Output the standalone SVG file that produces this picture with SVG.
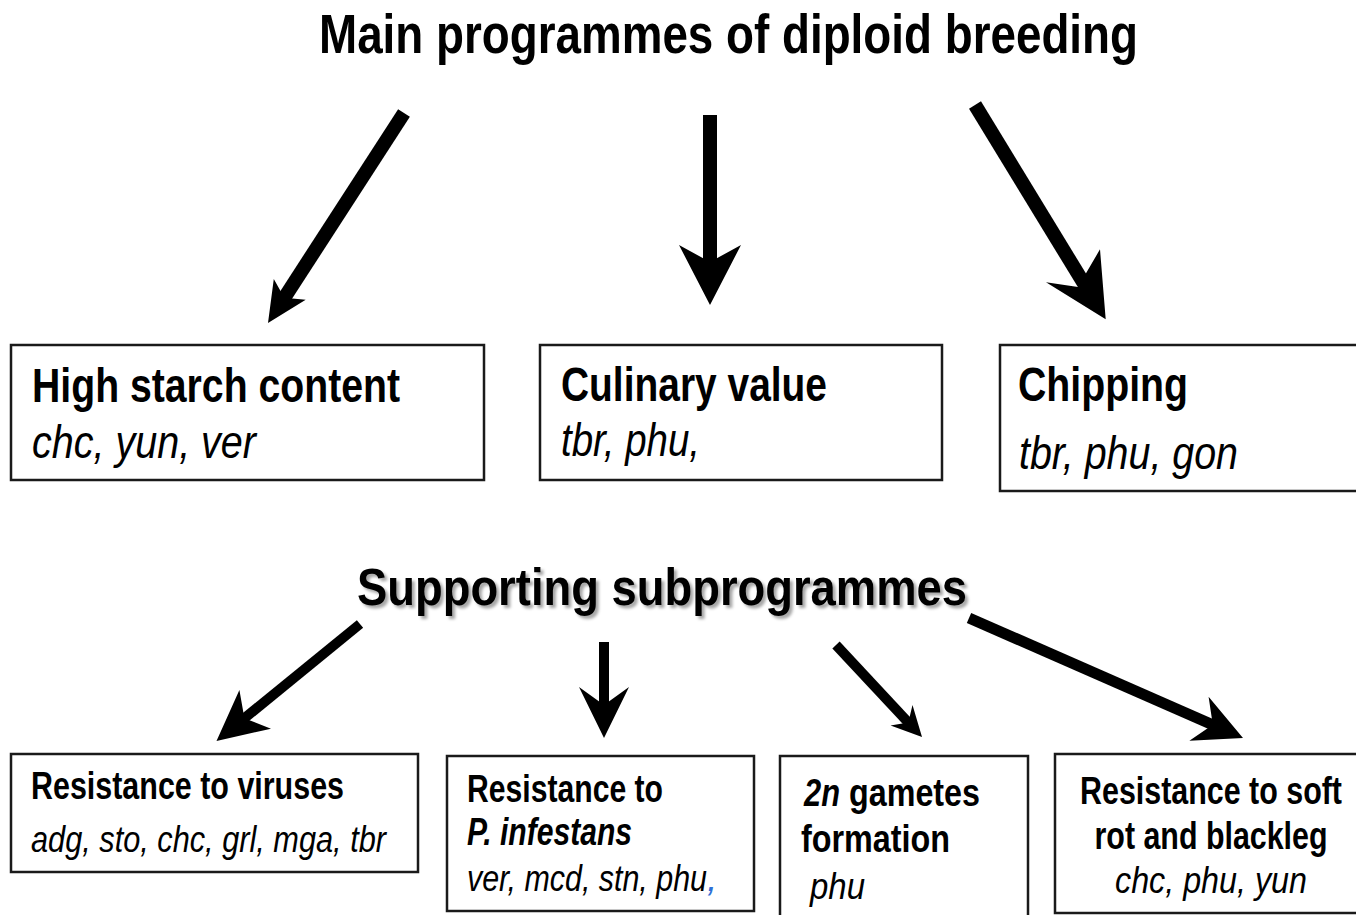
<svg xmlns="http://www.w3.org/2000/svg" width="1356" height="915" viewBox="0 0 1356 915">
<defs>
<style>
.bg{fill:#ffffff}
.box{fill:#ffffff;stroke:#1a1a1a;stroke-width:2.5}
.t{font-family:"Liberation Sans Narrow","Liberation Sans",Arial,sans-serif;fill:#000}
.b{font-weight:bold}
.i{font-style:italic}
.blue{fill:#2f6fd6}
.shaft{stroke:#000;fill:none;stroke-linecap:butt}
.head{fill:#000;stroke:none}
</style>
<filter id="shadow" x="-5%" y="-20%" width="110%" height="150%">
<feDropShadow dx="3" dy="3" stdDeviation="1.8" flood-color="#000" flood-opacity="0.35"/>
</filter>
</defs>
<rect class="bg" x="0" y="0" width="1356" height="915"/>

<g id="title-main">
<text class="t b" x="319" y="53" font-size="56" textLength="819" lengthAdjust="spacingAndGlyphs">Main programmes of diploid breeding</text>
</g>
<g id="title-support">
<text class="t b" x="357" y="605" font-size="52" textLength="610" lengthAdjust="spacingAndGlyphs" filter="url(#shadow)">Supporting subprogrammes</text>
</g>

<g id="connectors">
<line class="shaft" x1="404" y1="113" x2="281.6" y2="302" stroke-width="14"/>
<path class="head" d="M268,323 L305.7,299.8 L284.3,297.8 L273.8,279.1 Z"/>
<line class="shaft" x1="710" y1="115" x2="710" y2="270" stroke-width="14"/>
<path class="head" d="M710,305 L741,245 L710,262 L679,245 Z"/>
<line class="shaft" x1="975" y1="105" x2="1090.1" y2="293.7" stroke-width="14"/>
<path class="head" d="M1105.7,319.3 L1100,249.3 L1078,287 L1046,282.3 Z"/>
<line class="shaft" x1="360" y1="624" x2="235.9" y2="725.2" stroke-width="10"/>
<path class="head" d="M216.5,741 L239.4,690 L244.4,718.2 L271,728.7 Z"/>
<line class="shaft" x1="604" y1="642" x2="604" y2="712" stroke-width="10"/>
<path class="head" d="M604,738 L629,687 L604,705 L579,687 Z"/>
<line class="shaft" x1="836" y1="645" x2="912.4" y2="726.8" stroke-width="10"/>
<path class="head" d="M922,737 L912.5,704.9 L908.3,722.4 L890.6,725.4 Z"/>
<line class="shaft" x1="969" y1="618" x2="1222.8" y2="729.2" stroke-width="11"/>
<path class="head" d="M1243,738 L1208.6,696.8 L1212.8,724.8 L1189.4,740.8 Z"/>
</g>

<g id="node-starch">
<rect class="box" x="11" y="345" width="473" height="135"/>
<text class="t b" x="32" y="402" font-size="48" textLength="368" lengthAdjust="spacingAndGlyphs">High starch content</text>
<text class="t i" x="32" y="458" font-size="46" textLength="224" lengthAdjust="spacingAndGlyphs">chc, yun, ver</text>
</g>
<g id="node-culinary">
<rect class="box" x="540" y="345" width="402" height="135"/>
<text class="t b" x="561" y="401" font-size="48" textLength="266" lengthAdjust="spacingAndGlyphs">Culinary value</text>
<text class="t i" x="561" y="456" font-size="46" textLength="139" lengthAdjust="spacingAndGlyphs">tbr, phu,</text>
</g>
<g id="node-chipping">
<rect class="box" x="1000" y="345" width="370" height="146"/>
<text class="t b" x="1018" y="401" font-size="48" textLength="170" lengthAdjust="spacingAndGlyphs">Chipping</text>
<text class="t i" x="1019" y="469" font-size="46" textLength="219" lengthAdjust="spacingAndGlyphs">tbr, phu, gon</text>
</g>

<g id="node-viruses">
<rect class="box" x="11" y="754" width="407" height="118"/>
<text class="t b" x="31" y="799" font-size="38" textLength="313" lengthAdjust="spacingAndGlyphs">Resistance to viruses</text>
<text class="t i" x="31" y="852" font-size="37" textLength="355" lengthAdjust="spacingAndGlyphs">adg, sto, chc, grl, mga, tbr</text>
</g>
<g id="node-infestans">
<rect class="box" x="447" y="756" width="307" height="155"/>
<text class="t b" x="467" y="802" font-size="38" textLength="196" lengthAdjust="spacingAndGlyphs">Resistance to</text>
<text class="t b i" x="467" y="845" font-size="38" textLength="165" lengthAdjust="spacingAndGlyphs">P. infestans</text>
<text class="t i" x="467" y="891" font-size="37" textLength="240" lengthAdjust="spacingAndGlyphs">ver, mcd, stn, phu</text>
<text class="t i blue" x="707" y="891" font-size="37">,</text>
</g>
<g id="node-gametes">
<rect class="box" x="780" y="756" width="248" height="175"/>
<text class="t b i" x="804" y="806" font-size="38" textLength="36" lengthAdjust="spacingAndGlyphs">2n</text>
<text class="t b" x="849" y="806" font-size="38" textLength="131" lengthAdjust="spacingAndGlyphs">gametes</text>
<text class="t b" x="801" y="852" font-size="38" textLength="149" lengthAdjust="spacingAndGlyphs">formation</text>
<text class="t i" x="810" y="899" font-size="37" textLength="55" lengthAdjust="spacingAndGlyphs">phu</text>
</g>
<g id="node-softrot">
<rect class="box" x="1055" y="754" width="310" height="159"/>
<text class="t b" x="1211" y="804" font-size="38" text-anchor="middle" textLength="262" lengthAdjust="spacingAndGlyphs">Resistance to soft</text>
<text class="t b" x="1211" y="849" font-size="38" text-anchor="middle" textLength="233" lengthAdjust="spacingAndGlyphs">rot and blackleg</text>
<text class="t i" x="1211" y="893" font-size="37" text-anchor="middle" textLength="192" lengthAdjust="spacingAndGlyphs">chc, phu, yun</text>
</g>
</svg>
